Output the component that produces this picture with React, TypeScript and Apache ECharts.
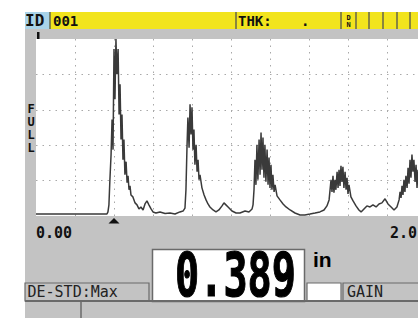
import React, { useEffect, useRef } from "react";
import * as echarts from "echarts";

// ---- data (x in inches, y in % of full screen height) ----
const xTickLabels = ["0.00", "2.0"];
const xMin = 0;
const xMax = 2;
const xStep = 0.2;
const yMin = 0;
const yMax = 100;
const yStep = 20;

const leadIn: [number, number][] = [
  [0, 1.1], [0.364, 1.1],
];
const echo1: [number, number][] = [
  [0.369, 2.3], [0.374, 6.3], [0.379, 20.5], [0.385, 34.7], [0.39, 54.5], [0.395, 37.5],
  [0.4, 94.3], [0.405, 65.9], [0.41, 100], [0.415, 80.1], [0.421, 94.3], [0.426, 57.4],
  [0.431, 74.4], [0.436, 43.2], [0.441, 57.4], [0.446, 31.8], [0.451, 43.2], [0.456, 23.3],
  [0.462, 30.7], [0.467, 18.8], [0.472, 22.7], [0.477, 14.8], [0.482, 17.0], [0.487, 11.9],
  [0.497, 10.8], [0.508, 7.4], [0.518, 6.3], [0.528, 4.0], [0.538, 5.1], [0.549, 3.4],
  [0.559, 6.8], [0.569, 8.5], [0.579, 6.3], [0.59, 4.0], [0.6, 2.3], [0.615, 1.7],
  [0.636, 2.3], [0.662, 1.4], [0.687, 1.7], [0.713, 1.1], [0.738, 2.3], [0.754, 2.8],
];
const echo2: [number, number][] = [
  [0.764, 4.5], [0.769, 14.8], [0.774, 37.5], [0.779, 55.7], [0.785, 38.6], [0.79, 63.1],
  [0.795, 46.0], [0.8, 61.4], [0.805, 37.5], [0.81, 48.9], [0.815, 29.0], [0.821, 40.3],
  [0.826, 25.0], [0.831, 31.8], [0.836, 20.5], [0.841, 23.3], [0.851, 15.9], [0.862, 11.9],
  [0.872, 9.1], [0.882, 6.8], [0.892, 5.1], [0.908, 3.4], [0.923, 2.3], [0.938, 3.4],
  [0.954, 5.7], [0.964, 7.4], [0.974, 6.3], [0.985, 5.1], [1.005, 2.8], [1.026, 1.7],
  [1.046, 1.7], [1.072, 2.8], [1.092, 2.3], [1.108, 4.0],
];
const echo3: [number, number][] = [
  [1.113, 6.3], [1.118, 14.8], [1.123, 31.8], [1.128, 17.6], [1.133, 40.3], [1.138, 20.5],
  [1.144, 43.2], [1.149, 23.3], [1.154, 47.2], [1.159, 26.1], [1.164, 44.3], [1.169, 21.6],
  [1.174, 40.3], [1.179, 19.3], [1.185, 37.5], [1.19, 17.6], [1.195, 33.0], [1.2, 15.9],
  [1.205, 29.0], [1.21, 14.8], [1.215, 23.3], [1.221, 13.6], [1.226, 17.6], [1.236, 11.4],
  [1.251, 9.1], [1.267, 6.8], [1.282, 5.1], [1.303, 3.4], [1.328, 1.7], [1.354, 0.6],
  [1.379, 0.6], [1.405, 1.1], [1.431, 1.7], [1.456, 2.3], [1.477, 3.4], [1.492, 5.7],
];
const echo4: [number, number][] = [
  [1.503, 9.1], [1.508, 14.8], [1.513, 20.5], [1.518, 13.6], [1.523, 22.7], [1.528, 13.1],
  [1.533, 20.5], [1.538, 14.8], [1.544, 25.0], [1.549, 15.9], [1.554, 26.1], [1.559, 17.0],
  [1.564, 28.4], [1.569, 19.3], [1.574, 27.8], [1.579, 15.9], [1.585, 25.0], [1.59, 14.8],
  [1.595, 21.6], [1.6, 12.5], [1.605, 17.6], [1.615, 10.8], [1.626, 8.5], [1.641, 5.7],
  [1.656, 3.4], [1.667, 2.3], [1.682, 4.0], [1.697, 5.7], [1.713, 5.1], [1.728, 6.3],
  [1.744, 5.1], [1.759, 6.8], [1.774, 7.4], [1.79, 9.7], [1.805, 6.8], [1.821, 5.1],
  [1.836, 3.4], [1.851, 5.1],
];
const echo5: [number, number][] = [
  [1.862, 9.1], [1.867, 13.6], [1.872, 10.2], [1.877, 17.0], [1.882, 11.9], [1.887, 20.5],
  [1.892, 13.6], [1.897, 22.7], [1.903, 15.9], [1.908, 27.3], [1.913, 18.2], [1.918, 31.8],
  [1.923, 21.6], [1.928, 34.7], [1.933, 25.0], [1.938, 31.8], [1.944, 19.3], [1.949, 29.0],
  [1.954, 15.9], [1.959, 26.1], [1.969, 14.8], [1.985, 10.2], [2.0, 7.4],
];

const headerId = "001";
const headerThk = "THK:";
const headerThkValue = ".";
const verticalScaleLabel = "F\nU\nL\nL";
const thicknessReading = "0.389";
const unitLabel = "in";
const modeLabel = "DE-STD:Max";
const gainLabel = "GAIN";

const MONO = '"DejaVu Sans Mono", monospace';
const GRAY = "#c3c3c3";
const DARK = "#111111";
const EDGE = "#6a6a6a";

export default function App() {
  const ref = useRef<HTMLDivElement>(null);

  useEffect(() => {
    if (!ref.current) return;
    const chart = echarts.init(ref.current, undefined, { renderer: "svg" });
    const waveform = [...leadIn, ...echo1, ...echo2, ...echo3, ...echo4, ...echo5];

    const splitStyle = { color: "#a9a9a9", width: 1, type: [1.5, 5] as any };

    const text = (x: number, y: number, t: string, font: string, extra: any = {}) => ({
      type: "text",
      x,
      y,
      z: 20,
      style: {
        text: t,
        font,
        fill: DARK,
        textAlign: "left",
        textVerticalAlign: "middle",
        ...extra,
      },
    });

    const vline = (x: number, y1: number, y2: number, color: string, w: number) => ({
      type: "line",
      z: 15,
      shape: { x1: x, y1, x2: x, y2 },
      style: { stroke: color, lineWidth: w },
    });

    const option: any = {
      animation: false,
      backgroundColor: GRAY,
      grid: {
        left: 36,
        top: 39,
        width: 390,
        height: 177,
        show: true,
        backgroundColor: "#ffffff",
        borderWidth: 0,
      },
      xAxis: {
        type: "value",
        min: xMin,
        max: xMax,
        interval: xStep,
        axisLine: { show: false },
        axisTick: { show: false },
        splitLine: { show: true, showMinLine: false, showMaxLine: false, lineStyle: splitStyle },
        axisLabel: {
          show: true,
          showMinLabel: true,
          showMaxLabel: true,
          alignMinLabel: "left",
          alignMaxLabel: "right",
          margin: 9,
          padding: [0, 9, 0, 0],
          color: DARK,
          fontFamily: MONO,
          fontWeight: "bold",
          fontSize: 15,
          formatter: (v: number) =>
            Math.abs(v - xMin) < 1e-9 ? xTickLabels[0] : Math.abs(v - xMax) < 1e-9 ? xTickLabels[1] : "",
        },
      },
      yAxis: {
        type: "value",
        min: yMin,
        max: yMax,
        interval: yStep,
        axisLine: { show: false },
        axisTick: { show: false },
        axisLabel: { show: false },
        splitLine: { show: true, showMinLine: false, showMaxLine: false, lineStyle: splitStyle },
      },
      series: [
        {
          type: "line",
          data: waveform,
          showSymbol: false,
          clip: true,
          lineStyle: { color: "#3a3a3a", width: 1.5 },
          z: 5,
        },
      ],
      graphic: [
        // outside white margins
        { type: "rect", z: 10, shape: { x: 0, y: 0, width: 25, height: 318 }, style: { fill: "#ffffff" } },
        { type: "rect", z: 10, shape: { x: 0, y: 0, width: 440, height: 12 }, style: { fill: "#ffffff" } },
        // top status bar
        { type: "rect", z: 11, shape: { x: 25, y: 12, width: 25, height: 17 }, style: { fill: "#a9d3e8" } },
        { type: "rect", z: 11, shape: { x: 50, y: 12, width: 390, height: 17 }, style: { fill: "#f2e41d" } },
        vline(50, 12, 29, "#66664a", 1.5),
        vline(236, 12, 29, "#66664a", 1.5),
        vline(341, 12, 29, "#66664a", 1.5),
        vline(356, 12, 29, "#66664a", 1.5),
        vline(369, 12, 29, "#66664a", 1.5),
        vline(383, 12, 29, "#66664a", 1.5),
        vline(397, 12, 29, "#66664a", 1.5),
        vline(410, 12, 29, "#66664a", 1.5),
        text(25, 20.5, "ID", `bold 16px ${MONO}`),
        text(53, 21, headerId, `bold 14px ${MONO}`),
        text(238, 21, headerThk, `bold 14px ${MONO}`),
        text(301, 21, headerThkValue, `bold 14px ${MONO}`),
        text(348.5, 17.5, "D", `bold 7px ${MONO}`, { textAlign: "center" }),
        text(348.5, 24.5, "N", `bold 7px ${MONO}`, { textAlign: "center" }),
        // small marker above plot
        { type: "rect", z: 12, shape: { x: 37, y: 32, width: 2.5, height: 7 }, style: { fill: DARK } },
        // vertical FULL label
        {
          type: "text",
          x: 31,
          y: 103,
          z: 20,
          style: {
            text: verticalScaleLabel,
            font: `bold 12px ${MONO}`,
            fill: DARK,
            textAlign: "center",
            textVerticalAlign: "top",
            lineHeight: 12.8,
          },
        },
        // gate triangle
        {
          type: "polygon",
          z: 12,
          shape: { points: [[108.5, 223.5], [119.5, 223.5], [114, 218]] },
          style: { fill: DARK },
        },
        // big reading box
        {
          type: "rect",
          z: 12,
          shape: { x: 152.5, y: 249.5, width: 152, height: 52 },
          style: { fill: "#ffffff", stroke: EDGE, lineWidth: 1.5 },
        },
        {
          type: "text",
          x: 175,
          y: 275,
          z: 20,
          scaleX: 0.67,
          style: {
            text: thicknessReading,
            font: `bold 60px ${MONO}`,
            fill: "#000000",
            stroke: "#000000",
            lineWidth: 1.2,
            textAlign: "left",
            textVerticalAlign: "middle",
          },
        },
        text(313, 259.5, unitLabel, `bold 21px "Liberation Sans", Arial, sans-serif`, { fill: "#000000" }),
        // mode box
        {
          type: "rect",
          z: 12,
          shape: { x: 25, y: 283, width: 124, height: 18 },
          style: { fill: GRAY, stroke: EDGE, lineWidth: 1.2 },
        },
        text(27.5, 292, modeLabel, `15px ${MONO}`, { fill: "#222222" }),
        // small white box
        {
          type: "rect",
          z: 12,
          shape: { x: 307, y: 283, width: 34, height: 18 },
          style: { fill: "#ffffff", stroke: EDGE, lineWidth: 1.2 },
        },
        // gain box
        {
          type: "rect",
          z: 12,
          shape: { x: 343, y: 283, width: 100, height: 18 },
          style: { fill: GRAY, stroke: EDGE, lineWidth: 1.2 },
        },
        text(347, 292, gainLabel, `15px ${MONO}`, { fill: "#222222" }),
        // bottom separators
        {
          type: "line",
          z: 16,
          shape: { x1: 25, y1: 301, x2: 440, y2: 301 },
          style: { stroke: EDGE, lineWidth: 2 },
        },
        vline(81, 302, 318, EDGE, 1.5),
      ],
    };

    chart.setOption(option);
    return () => chart.dispose();
  }, []);

  return (
    <div style={{ position: "absolute", left: 0, top: 0, width: 418, height: 318, overflow: "hidden" }}>
      <div ref={ref} style={{ width: 440, height: 318 }} />
    </div>
  );
}
